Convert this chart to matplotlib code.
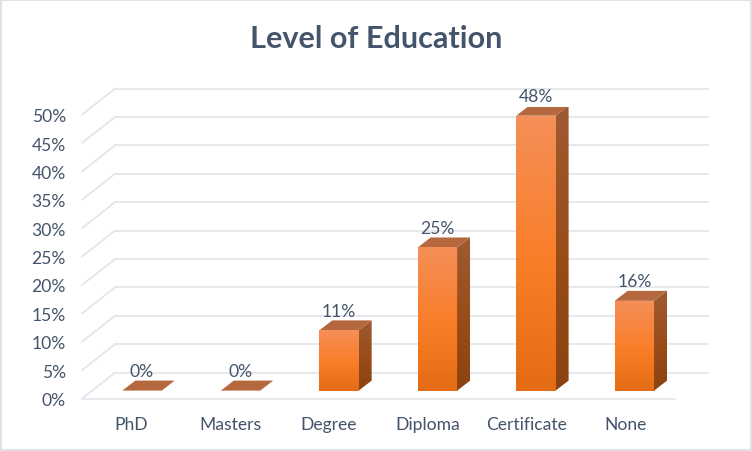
import numpy as np
import matplotlib
matplotlib.use("Agg")
import matplotlib.pyplot as plt
from matplotlib.colors import LinearSegmentedColormap
from matplotlib.patches import ConnectionPatch, Polygon, Rectangle

categories = ["PhD", "Masters", "Degree", "Diploma", "Certificate", "None"]
values = [0.0, 0.0, 10.6, 25.2, 48.4, 15.8]
y_ticks = [0, 5, 10, 15, 20, 25, 30, 35, 40, 45, 50]
title = "Level of Education"

TEXT = "#44546A"
GRID = "#E1E4EA"
W, H = 752, 452
plt.rcParams["font.family"] = ["Lato", "DejaVu Sans"]

fig = plt.figure(figsize=(W / 100, H / 100), dpi=100, facecolor="white")


def add_plane(left, right, base):
    ax = fig.add_axes([left / W, (H - base) / H, (right - left) / W, 284 / H])
    ax.patch.set_alpha(0)
    ax.set_ylim(0, 50)
    for s in ax.spines.values():
        s.set_visible(False)
    return ax


# back wall, floor front edge, bar plane
back = add_plane(115, 708, 373.6)
front = add_plane(82, 675, 399.6)
bars = add_plane(91.5, 684.5, 391.6)

back.set_xlim(0, 1)
back.set_xticks([])
back.set_yticks(y_ticks)
back.tick_params(left=False, labelleft=False)
back.grid(axis="y", color=GRID, lw=1.2, clip_on=False)
back.set_axisbelow(True)
for line in back.get_ygridlines():
    line.set_clip_on(False)

front.set_xlim(-0.5, 5.5)
front.set_xticks(range(len(categories)))
front.set_xticklabels(categories)
front.set_yticks(y_ticks)
front.set_yticklabels([f"{t}%" for t in y_ticks])
front.tick_params(length=0, labelsize=12.6, labelcolor=TEXT)
front.tick_params(axis="x", pad=12.2)
front.tick_params(axis="y", pad=11.6)
front.spines["bottom"].set_visible(True)
front.spines["bottom"].set_color(GRID)
front.spines["bottom"].set_linewidth(1.2)

for t in y_ticks:
    fig.add_artist(ConnectionPatch(
        xyA=(-0.5, t), coordsA=front.transData,
        xyB=(0, t), coordsB=back.transData,
        color=GRID, lw=1.2, zorder=0.5))

# 3D bars: the depth is a constant offset in the bar plane
step_px = 98.48
bars.set_xlim(-0.513, 5.509)
bars.set_xticks([])
bars.set_yticks([])
bar_w = 39.4 / step_px
dx = 13.0 / step_px
dy = 10.0 * 50 / 284

face_cmap = LinearSegmentedColormap.from_list(
    "face", [(0, "#E46C14"), (0.45, "#F97D26"), (1, "#F58F58")])
side_cmap = LinearSegmentedColormap.from_list(
    "side", [(0, "#8A4310"), (0.45, "#984C18"), (1, "#9E5A31")])
grad = np.linspace(1, 0, 128).reshape(-1, 1)

for i, (cat, v) in enumerate(zip(categories, values)):
    x0, x1 = i - bar_w / 2, i + bar_w / 2
    top = Polygon([(x0, v), (x1, v), (x1 + dx, v + dy), (x0 + dx, v + dy)],
                  closed=True, fc="#B5683E", ec="none", zorder=3)
    bars.add_patch(top)
    if v > 0:
        bars.imshow(grad, extent=[x0, x1, 0, v], cmap=face_cmap, vmin=0, vmax=1,
                    aspect="auto", zorder=3, interpolation="bilinear")
        side = Polygon([(x1, 0), (x1 + dx, dy), (x1 + dx, v + dy), (x1, v)],
                       closed=True, fc="none", ec="none",
                       transform=bars.transData)
        bars.add_patch(side)
        im = bars.imshow(grad, extent=[x1, x1 + dx, 0, v + dy], cmap=side_cmap,
                         vmin=0, vmax=1, aspect="auto", zorder=3,
                         interpolation="bilinear")
        im.set_clip_path(side)
    bars.annotate(f"{round(v)}%", xy=(i, v), xytext=(0, 19.5),
                  textcoords="offset pixels", ha="center", va="center",
                  fontsize=12.6, color=TEXT, zorder=5, annotation_clip=False)

bars.set_xlim(-0.513, 5.509)
bars.set_ylim(0, 50)

fig.text(376.5 / W, 1 - 48 / H, title, ha="center", va="baseline",
         fontsize=22.1, fontweight="bold", color=TEXT)
fig.add_artist(Rectangle((0, 0), 1, 1, transform=fig.transFigure, fc="none",
                         ec="#DEE3EA", lw=2.9))

fig.savefig("out.png", dpi=100)
